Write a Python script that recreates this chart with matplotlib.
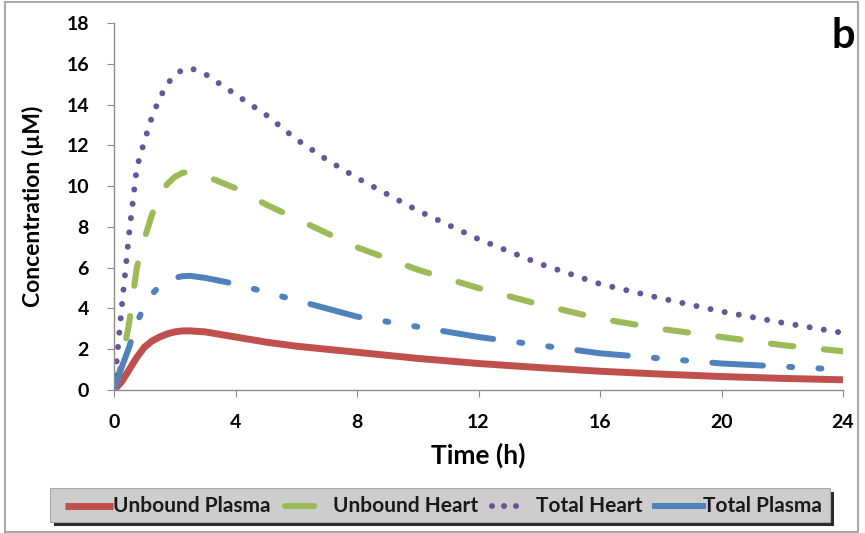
import numpy as np
import matplotlib
matplotlib.use("Agg")
import matplotlib.pyplot as plt
from matplotlib.patches import Rectangle
from matplotlib.lines import Line2D

plt.rcParams['font.family'] = ['Lato', 'DejaVu Sans']
plt.rcParams['font.weight'] = 'bold'

# time points (h)
time_h = [0, 0.25, 0.5, 0.75, 1, 1.25, 1.5, 1.75, 2, 2.25, 2.5, 3, 4, 5, 6, 7, 8,
          10, 12, 14, 16, 18, 20, 22, 24]

# concentrations (uM)
unbound_plasma = [0, 0.4, 1.0, 1.6, 2.1, 2.4, 2.6, 2.75, 2.85, 2.9, 2.9, 2.85, 2.6,
                  2.35, 2.15, 2.0, 1.85, 1.55, 1.3, 1.1, 0.92, 0.78, 0.66, 0.57, 0.5]
unbound_heart = [0, 1.3, 3.3, 6.0, 7.4, 8.6, 9.5, 10.1, 10.45, 10.65, 10.7, 10.5, 9.9,
                 9.1, 8.4, 7.7, 7.0, 5.9, 5.0, 4.2, 3.5, 3.0, 2.6, 2.2, 1.9]
total_heart = [0, 4.0, 7.7, 10.9, 12.2, 13.4, 14.3, 15.0, 15.45, 15.7, 15.8, 15.5, 14.5,
               13.5, 12.3, 11.3, 10.4, 8.8, 7.4, 6.2, 5.2, 4.5, 3.85, 3.3, 2.8]
total_plasma = [0, 1.1, 2.1, 3.3, 4.1, 4.7, 5.1, 5.35, 5.5, 5.58, 5.6, 5.5, 5.2,
                4.8, 4.4, 4.0, 3.6, 3.1, 2.6, 2.2, 1.8, 1.55, 1.3, 1.15, 1.0]

labels = ['Unbound Plasma', 'Unbound Heart', 'Total Heart', 'Total Plasma']
colors = ['#C0504D', '#9BBB59', '#65559A', '#4F81BD']

W, H = 865.0, 533.0
def fx(px):
    return px / W
def fy(py):
    return 1 - py / H

# line styles (red, green, purple, blue)
styles = [
    dict(color=colors[0], lw=5.0, solid_capstyle='butt'),
    dict(color=colors[1], lw=4.4, linestyle=(0, (3.7, 5.0)), dash_capstyle='round'),
    dict(color=colors[2], lw=4.3, linestyle=(0, (0.01, 2.4)), dash_capstyle='round'),
    dict(color=colors[3], lw=4.3, linestyle=(0, (8.5, 4.4, 0.5, 4.4, 0.5, 4.4)),
         dash_capstyle='round'),
]

fig = plt.figure(figsize=(8.65, 5.33), dpi=100)
ax = fig.add_axes([fx(114), fy(390), fx(843) - fx(114), fy(23) - fy(390)])

series = [unbound_plasma, unbound_heart, total_heart, total_plasma]
for ys, st in zip(series, styles):
    ax.plot(time_h, ys, **st)

ax.set_xlim(0, 24)
ax.set_ylim(0, 18)
ax.set_xticks(np.arange(0, 25, 4))
ax.set_yticks(np.arange(0, 19, 2))
for s in ['top', 'right']:
    ax.spines[s].set_visible(False)
for s in ['left', 'bottom']:
    ax.spines[s].set_color('#8C8C8C')
    ax.spines[s].set_linewidth(1.0)
ax.tick_params(direction='out', length=5, color='#8C8C8C', labelsize=14)
ax.tick_params(axis='x', pad=12)
ax.tick_params(axis='y', pad=13)
for lab in ax.get_xticklabels() + ax.get_yticklabels():
    lab.set_fontweight('bold')

ax.set_xlabel('Time (h)', fontsize=19, fontweight='bold', va='center')
ax.set_ylabel('Concentration (\u00b5M)', fontsize=16.5, fontweight='bold', va='center')
ax.xaxis.set_label_coords((478 - 114) / 729.0, -(455 - 390) / 367.0)
ax.yaxis.set_label_coords(-(114 - 33) / 729.0, 0.5)
fig.text(fx(843), fy(36), 'b', fontsize=30, fontweight='bold', ha='center', va='center')

# legend box with shadow, drawn by hand
fig.patches.append(Rectangle((fx(54), fy(526)), fx(834) - fx(54), fy(492) - fy(526),
                             transform=fig.transFigure, facecolor='#2A2A2A',
                             edgecolor='none', zorder=1))
fig.patches.append(Rectangle((fx(50), fy(522)), fx(830) - fx(50), fy(488) - fy(522),
                             transform=fig.transFigure, facecolor='#CDCDCD',
                             edgecolor='#A8A8A8', lw=0.8, zorder=2))
leg_y = fy(506)
handle_x = [(65, 113), (285, 314), (492, 526), (655, 703)]
text_x = [113, 333, 536, 703]
for i, st in enumerate(styles):
    x0, x1 = handle_x[i]
    kw = dict(st)
    if i == 1:
        kw['linestyle'] = '-'
        kw['solid_capstyle'] = 'round'
    if i == 2:
        kw['linestyle'] = (0, (0.01, 2.0))
    if i == 3:
        kw['linestyle'] = '-'
    fig.lines.append(Line2D([fx(x0), fx(x1)], [leg_y, leg_y], transform=fig.transFigure,
                            zorder=3, **kw))
    fig.text(fx(text_x[i]), leg_y, labels[i], fontsize=15, fontweight='bold',
             ha='left', va='center', color='#1A1A1A', zorder=4)

# outer frame
fig.patches.append(Rectangle((fx(5), fy(532)), fx(858) - fx(5), fy(2) - fy(532),
                             transform=fig.transFigure, facecolor='none',
                             edgecolor='#A8A8A8', lw=1.5))

fig.savefig('out.png', dpi=100)
